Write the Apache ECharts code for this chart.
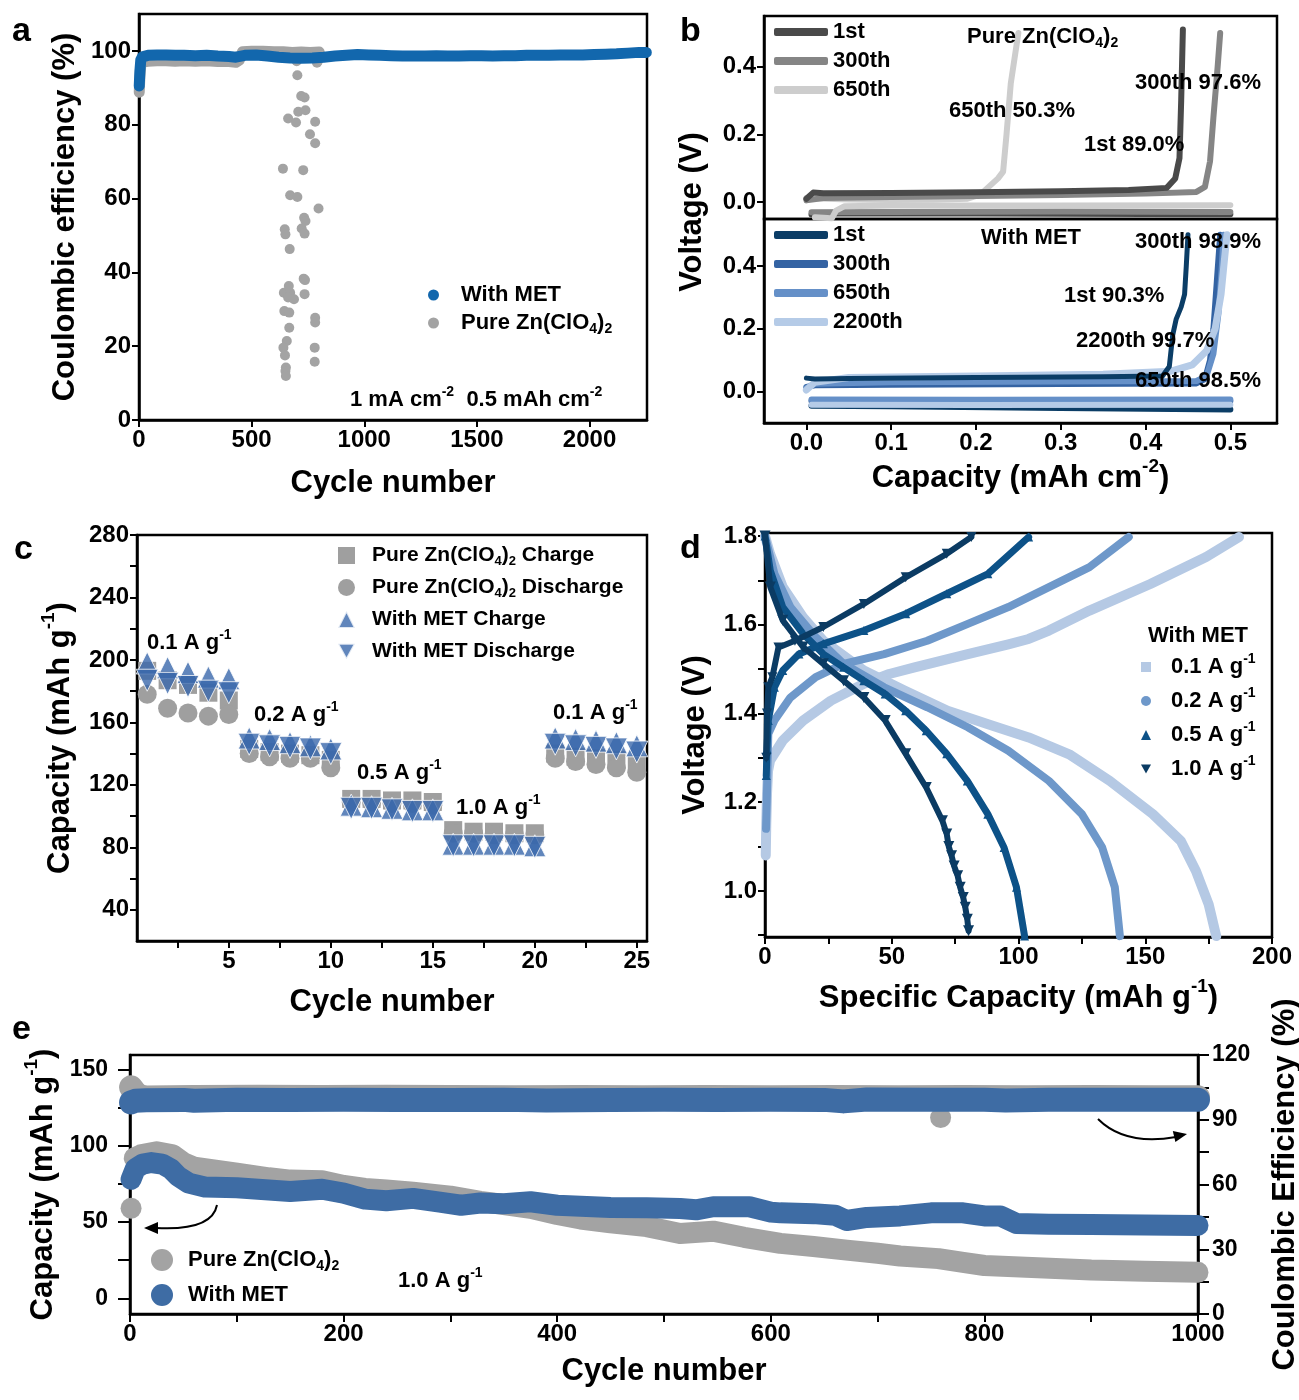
<!DOCTYPE html>
<html><head><meta charset="utf-8">
<script src="https://cdn.jsdelivr.net/npm/echarts@6/dist/echarts.min.js"></script>
<style>html,body{margin:0;padding:0;background:#fff}#chart{width:1299px;height:1400px}</style>
</head><body><div id="chart"></div>
<script>
// ---------------- (a) Coulombic efficiency, Zn||Cu ----------------
const aMetCE = [[1,90.5],[4,94.5],[8,97.6],[15,98.4],[40,98.8],[80,98.9],[120,98.9],[160,98.8],[200,98.8],[250,98.7],[300,98.8],[350,98.6],[400,98.5],[430,98.3],[470,98.8],[520,98.9],[570,98.6],[620,98.3],[670,98.1],[720,98.0],[770,98.1],[820,98.3],[870,98.6],[920,98.8],[970,99.0],[1020,98.9],[1070,98.8],[1120,98.7],[1170,98.6],[1220,98.6],[1270,98.6],[1320,98.7],[1370,98.6],[1420,98.6],[1470,98.7],[1520,98.7],[1570,98.6],[1620,98.7],[1670,98.7],[1720,98.8],[1770,98.8],[1820,98.8],[1870,98.9],[1920,98.9],[1970,98.9],[2020,99.0],[2070,99.1],[2120,99.2],[2170,99.4],[2220,99.6],[2252,99.6]];
const aPureCE = [[1,88.8],[4,93],[8,96.2],[15,97.0],[40,97.2],[80,97.3],[120,97.3],[160,97.2],[200,97.3],[250,97.2],[300,97.3],[350,97.1],[400,97.1],[430,96.9],[445,97.5],[460,99.8],[500,99.9],[550,99.9],[600,99.8],[640,99.8],[680,99.6],[720,99.7],[760,99.6],[800,99.7]];
const aPureDrop = [[703,93.4],[720,87.8],[735,87.4],[707,83.5],[739,83.9],[662,81.7],[697,80.6],[782,80.8],[759,77.4],[782,75],[639,68.1],[729,67.7],[671,60.9],[703,60.4],[797,57.3],[733,54.8],[739,53.9],[647,51.7],[650,50.3],[722,51.9],[735,50.5],[669,46.3],[731,38.3],[737,37.9],[665,36.3],[643,34.5],[671,34.5],[662,33.2],[688,32.7],[735,34.1],[645,29.5],[667,29.1],[667,25],[782,27.7],[782,26.4],[656,21.4],[641,19.6],[780,19.6],[648,17.5],[780,15.8],[652,14.2],[650,13.3],[652,11.9],[700,97.2],[790,96.8],[795,97.3]];

// ---------------- (b) voltage profiles ----------------
const bZn1Strip = [[0.0,0.01],[0.008,0.028],[0.02,0.026],[0.1,0.027],[0.2,0.029],[0.3,0.032],[0.38,0.036],[0.425,0.042],[0.435,0.07],[0.44,0.13],[0.442,0.3],[0.444,0.51]];
const bZn1Plate = [[0.006,-0.037],[0.02,-0.034],[0.2,-0.034],[0.4,-0.035],[0.5,-0.036]];
const bZn300Strip = [[0.0,0.005],[0.02,0.012],[0.1,0.015],[0.2,0.018],[0.3,0.021],[0.4,0.025],[0.46,0.03],[0.47,0.045],[0.476,0.12],[0.48,0.25],[0.485,0.4],[0.488,0.5]];
const bZn300Plate = [[0.006,-0.03],[0.1,-0.029],[0.3,-0.028],[0.5,-0.029]];
const bZn650Strip = [[0.0,0.012],[0.05,0.008],[0.1,0.006],[0.15,0.007],[0.19,0.01],[0.205,0.022],[0.215,0.045],[0.226,0.07],[0.232,0.09],[0.236,0.2],[0.241,0.35],[0.25,0.5]];
const bZn650Plate = [[0.01,-0.045],[0.03,-0.048],[0.035,-0.025],[0.045,-0.012],[0.1,-0.01],[0.3,-0.01],[0.5,-0.009]];
const bMet1Strip = [[0.0,0.043],[0.01,0.04],[0.05,0.042],[0.2,0.045],[0.35,0.047],[0.42,0.05],[0.428,0.08],[0.432,0.18],[0.436,0.23],[0.442,0.27],[0.446,0.31],[0.448,0.4],[0.45,0.5]];
const bMet1Plate = [[0.006,-0.045],[0.1,-0.047],[0.3,-0.052],[0.5,-0.057]];
const bMet300Strip = [[0.0,0.015],[0.01,0.02],[0.1,0.022],[0.3,0.024],[0.46,0.026],[0.47,0.04],[0.476,0.1],[0.48,0.2],[0.484,0.35],[0.488,0.5]];
const bMet300Plate = [[0.006,-0.03],[0.2,-0.032],[0.5,-0.03]];
const bMet650Strip = [[0.0,0.012],[0.01,0.025],[0.1,0.03],[0.3,0.032],[0.46,0.034],[0.472,0.05],[0.48,0.12],[0.486,0.25],[0.49,0.4],[0.492,0.5]];
const bMet650Plate = [[0.006,-0.025],[0.2,-0.026],[0.5,-0.025]];
const bMet2200Strip = [[0.0,0.005],[0.01,0.03],[0.05,0.045],[0.2,0.05],[0.35,0.055],[0.43,0.065],[0.455,0.085],[0.472,0.13],[0.482,0.2],[0.489,0.31],[0.493,0.42],[0.496,0.5]];
const bMet2200Plate = [[0.006,-0.042],[0.2,-0.043],[0.5,-0.042]];

// ---------------- (c) rate performance ----------------
const cCycles = [1,2,3,4,5,6,7,8,9,10,11,12,13,14,15,16,17,18,19,20,21,22,23,24,25];
const cPureCharge    = [193,187,184,179,174, 143,141,140,139,136, 111,111,110,110,109, 91,90,90,89,89, 140,138,137,136,133];
const cPureDischarge = [178,169,166,164,165, 140,138,137,137,131, 109,109,108,108,107, 89,89,88,88,88, 137,135,133,131,128];
const cMetCharge     = [198,195,192,189,188, 150,149,147,145,143, 107,106,105,104,104, 82,82,82,82,81, 150,149,148,147,145];
const cMetDischarge  = [187,185,183,180,179, 146,145,144,143,140, 105,105,104,103,103, 81,81,81,81,80, 146,145,144,143,141];

// ---------------- (d) GCD curves ----------------
const d01Charge = [[0.3,1.08],[0.5,1.15],[0.8,1.22],[1.2,1.27],[2,1.294],[7,1.339],[15,1.384],[26,1.429],[39,1.467],[49,1.489],[59,1.504],[80,1.534],[96,1.556],[104,1.568],[112,1.587],[128,1.632],[152,1.692],[174,1.753],[187,1.798]];
const d01Discharge = [[0,1.8],[2,1.76],[7,1.685],[15,1.617],[23,1.564],[39,1.497],[55,1.452],[72,1.406],[88,1.376],[104,1.346],[120,1.308],[136,1.248],[153,1.173],[164,1.113],[170,1.045],[175,0.97],[178,0.898]];
const d02Charge = [[0.4,1.14],[0.7,1.2],[1,1.28],[1.3,1.354],[3.7,1.384],[10,1.436],[20,1.482],[31,1.512],[47,1.534],[64,1.564],[80,1.602],[96,1.64],[112,1.685],[128,1.73],[143.5,1.798]];
const d02Discharge = [[0,1.8],[3.7,1.715],[10,1.64],[20,1.572],[31,1.512],[47,1.459],[64,1.414],[80,1.369],[96,1.316],[112,1.248],[125,1.173],[133,1.098],[138,1.008],[140,0.898]];
const d05Charge = [[0.5,1.26],[0.8,1.32],[1.3,1.384],[3.7,1.459],[7,1.497],[13.4,1.534],[23,1.557],[39,1.587],[55.5,1.625],[71.7,1.67],[87.9,1.715],[104,1.798]];
const d05Discharge = [[0,1.8],[2.1,1.722],[7,1.64],[15,1.58],[23,1.534],[31,1.504],[39,1.474],[47.4,1.444],[55.5,1.406],[63.6,1.361],[71.7,1.309],[79.8,1.248],[87.9,1.173],[94.3,1.098],[99.2,1.008],[102.4,0.898]];
const d10Charge = [[0.5,1.3],[0.8,1.4],[1.3,1.459],[2.9,1.482],[5.3,1.549],[11.8,1.564],[23,1.595],[39,1.647],[55.5,1.707],[71.7,1.76],[81.4,1.798]];
const d10Discharge = [[0,1.8],[2.1,1.685],[7,1.61],[15,1.55],[23,1.512],[31,1.474],[39,1.436],[47.4,1.384],[55.5,1.309],[63.6,1.233],[70,1.158],[71.7,1.128],[72.5,1.1],[73.6,1.079],[74.6,1.056],[76,1.034],[77,1.008],[78.2,0.985],[79,0.963],[79.8,0.936],[80.3,0.91]];

// ---------------- (e) long-term cycling ----------------
const ePureCap = [[4,92],[10,94],[25,96],[40,94],[50,89],[60,86],[80,84],[100,82],[130,79],[150,77.5],[180,77],[200,74],[220,72],[240,71],[265,69.5],[300,67],[328,63.5],[350,61.5],[375,59],[400,55],[422,52],[450,49.5],[484,47],[515,42.5],[546,44],[575,40],[609,36],[640,34],[671,31.6],[700,29.5],[721,27.7],[757,26],[780,23.5],[800,21.5],[850,20],[900,18.5],[950,17.8],[1000,17]];
const ePureCapOutlier = [[1,59]];
const eMetCap = [[1,78],[5,85],[12,88],[20,89],[30,88],[38,85],[45,80],[55,75.5],[70,73],[100,72.5],[130,71],[150,70],[180,71.5],[200,69],[220,65],[240,64],[265,65.5],[290,63],[310,61],[328,62.5],[350,62],[375,63.3],[400,61],[422,60.4],[450,59.5],[484,59.4],[515,58.9],[530,58],[546,60],[580,60],[600,56.5],[609,56],[640,55.5],[660,54.5],[671,51],[690,53],[721,54],[750,56],[780,56],[800,54],[815,54],[830,49],[860,48.5],[900,48.3],[950,48],[1000,47.8]];
const ePureCE = [[1,105],[4,103],[8,101],[15,100.3],[60,100.5],[120,100.6],[180,100.5],[240,100.6],[300,100.5],[360,100.4],[420,100.5],[480,100.4],[540,100.5],[600,100.4],[660,100.5],[720,100.4],[780,100.5],[840,100.4],[900,100.5],[960,100.4],[1000,100.4]];
const ePureCEOutlier = [[759,91]];
const eMetCE = [[1,98],[5,98.8],[15,99],[50,99.2],[60,98.8],[100,99.3],[150,99.2],[200,99.3],[250,99.2],[300,99.2],[350,99.3],[390,98.9],[450,99.2],[500,99.3],[550,99.2],[600,99.3],[650,99.2],[668,98.5],[690,99.4],[750,99.3],[800,99.3],[820,98.9],[860,99.3],[900,99.3],[950,99.3],[1000,99.3]];

// ---------------- tick values ----------------
const aXLabels = [0,500,1000,1500,2000];
const aYLabels = [0,20,40,60,80,100];
const bXLabels = [0,0.1,0.2,0.3,0.4,0.5];
const bYLabels = [0,0.2,0.4];
const cXLabels = [5,10,15,20,25];
const cXTicks = [2.5,5,7.5,10,12.5,15,17.5,20,22.5,25];
const cYLabels = [40,80,120,160,200,240,280];
const cYTicks = [40,60,80,100,120,140,160,180,200,220,240,260,280];
const dXLabels = [0,50,100,150,200];
const dXTicks = [0,25,50,75,100,125,150,175,200];
const dYLabels = [1.0,1.2,1.4,1.6,1.8];
const dYTicks = [0.9,1.0,1.1,1.2,1.3,1.4,1.5,1.6,1.7,1.8];
const eXLabels = [0,200,400,600,800,1000];
const eXTicks = [0,100,200,300,400,500,600,700,800,900,1000];
const eYLLabels = [0,50,100,150];
const eYLTicks = [0,25,50,75,100,125,150];
const eYRLabels = [0,30,60,90,120];
const eYRTicks = [0,15,30,45,60,75,90,105,120];

// ---------------- styling ----------------
const FONT = '"Liberation Sans", Arial, Helvetica, sans-serif';
const GRAY = '#a3a3a3';
const A_BLUE = '#1267ad';
const C_BLUE = '#3a68ab';
const E_BLUE = '#3e6ca4';
const DOWN = 'path://M0,0L10,0L5,9Z';

function R(fs, gap) {
  const b = {fontWeight: 'bold', fontFamily: FONT, color: '#000'};
  const sm = Math.round(fs * 0.62);
  return {
    t: Object.assign({fontSize: fs, lineHeight: Math.round(fs * 1.2)}, b),
    T: Object.assign({fontSize: fs, lineHeight: Math.round(fs * 1.35)}, b),
    s: Object.assign({fontSize: sm, lineHeight: sm, verticalAlign: 'bottom'}, b),
    p: Object.assign({fontSize: sm, lineHeight: sm, verticalAlign: 'top'}, b),
    g: {width: gap || 0, fontSize: fs, lineHeight: fs}
  };
}

function axis(o) {
  const base = {
    type: 'value',
    axisLine: {show: true, onZero: false, lineStyle: {color: '#000', width: 2.5}},
    axisTick: {show: true, inside: false, length: 7, lineStyle: {color: '#000', width: 2}},
    axisLabel: {show: true, color: '#000', fontFamily: FONT, fontWeight: 'bold', fontSize: 24, margin: 8, formatter: v => String(v)},
    splitLine: {show: false},
    nameLocation: 'middle',
    nameTextStyle: {color: '#000', fontFamily: FONT, fontWeight: 'bold', fontSize: 31, rich: R(31)}
  };
  const out = Object.assign({}, base, o);
  ['axisLine','axisTick','axisLabel','nameTextStyle'].forEach(k => {
    if (o[k]) out[k] = Object.assign({}, base[k], o[k]);
  });
  return out;
}
const f1 = v => v.toFixed(1);

function txt(x, y, text, fs, extra) {
  return Object.assign({
    type: 'text', x: x, y: y, z: 100,
    style: {text: text, rich: R(fs), fontSize: fs, fontWeight: 'bold', fontFamily: FONT, fill: '#000',
            align: 'left', verticalAlign: 'middle', textAlign: 'left', textVerticalAlign: 'middle'}
  }, extra || {});
}

const grid = [
  {left: 139, top: 14, width: 508, height: 406},   // a
  {left: 764, top: 16, width: 513, height: 203},   // b top
  {left: 764, top: 219, width: 513, height: 204},  // b bottom
  {left: 137, top: 535, width: 510, height: 406},  // c
  {left: 765, top: 533, width: 507, height: 404},  // d
  {left: 130, top: 1055, width: 1068, height: 259} // e
].map(g => Object.assign({show: true, borderColor: '#000', borderWidth: 2.5, backgroundColor: 'transparent',
                          containLabel: false, outerBoundsMode: 'none'}, g));

const xAxis = [
  axis({gridIndex: 0, min: 0, max: 2255, axisLabel: {customValues: aXLabels}, axisTick: {customValues: aXLabels}, name: 'Cycle number', nameGap: 48}),
  axis({gridIndex: 1, min: -0.05, max: 0.555, axisLine: {show: false}, axisTick: {show: false}, axisLabel: {show: false}}),
  axis({gridIndex: 2, min: -0.05, max: 0.555, axisLabel: {customValues: bXLabels, formatter: f1}, axisTick: {customValues: bXLabels},
        name: '{T|Capacity (mAh cm}{p|-2}{T|)}', nameGap: 34}),
  axis({gridIndex: 3, min: 0.5, max: 25.5, axisLabel: {customValues: cXLabels}, axisTick: {customValues: cXTicks}, name: 'Cycle number', nameGap: 46}),
  axis({gridIndex: 4, min: 0, max: 200, axisLabel: {customValues: dXLabels}, axisTick: {customValues: dXTicks},
        name: '{T|Specific Capacity (mAh g}{p|-1}{T|)}', nameGap: 40}),
  axis({gridIndex: 5, min: 0, max: 1000, axisLabel: {customValues: eXLabels}, axisTick: {customValues: eXTicks, length: 8}, name: 'Cycle number', nameGap: 42})
];
const yAxis = [
  axis({gridIndex: 0, min: 0, max: 110, axisLabel: {customValues: aYLabels}, axisTick: {customValues: aYLabels},
        name: 'Coulombic efficiency (%)', nameGap: 58, nameRotate: 90}),
  axis({gridIndex: 1, min: -0.05, max: 0.55, axisLabel: {customValues: bYLabels, formatter: f1}, axisTick: {customValues: bYLabels}}),
  axis({gridIndex: 2, min: -0.1, max: 0.55, axisLabel: {customValues: bYLabels, formatter: f1}, axisTick: {customValues: bYLabels}}),
  axis({gridIndex: 3, min: 20, max: 280, axisLabel: {customValues: cYLabels}, axisTick: {customValues: cYTicks},
        name: '{T|Capacity (mAh g}{p|-1}{T|)}', nameGap: 56, nameRotate: 90}),
  axis({gridIndex: 4, min: 0.896, max: 1.807, axisLabel: {customValues: dYLabels, formatter: f1}, axisTick: {customValues: dYTicks},
        name: 'Voltage (V)', nameGap: 54, nameRotate: 90}),
  axis({gridIndex: 5, min: -10.3, max: 159.5, position: 'left', axisLabel: {customValues: eYLLabels, fontSize: 23, margin: 22}, axisTick: {customValues: eYLTicks, length: 12},
        name: '{T|Capacity (mAh g}{p|-1}{T|)}', nameGap: 64, nameRotate: 90}),
  axis({gridIndex: 5, min: 0, max: 120, position: 'right', axisLabel: {customValues: eYRLabels, fontSize: 23, margin: 14}, axisTick: {customValues: eYRTicks, length: 11},
        name: 'Coulombic Efficiency (%)', nameGap: 72, nameRotate: 90})
];

function line(name, xi, yi, data, color, width, extra) {
  return Object.assign({
    type: 'line', name: name, xAxisIndex: xi, yAxisIndex: yi, data: data,
    symbol: 'none', smooth: false, clip: true, animation: false,
    lineStyle: {color: color, width: width, cap: 'round', join: 'round'},
    itemStyle: {color: color}
  }, extra || {});
}
function pts(name, xi, yi, data, color, symbol, size, extra) {
  return Object.assign({
    type: 'scatter', name: name, xAxisIndex: xi, yAxisIndex: yi, data: data,
    symbol: symbol, symbolSize: size, animation: false, itemStyle: {color: color, opacity: 1}
  }, extra || {});
}
const pair = vals => cCycles.map((c, i) => [c, vals[i]]);

const series = [
  // a
  line('a:Pure', 0, 0, aPureCE, GRAY, 11, {z: 2}),
  pts('a:Pure', 0, 0, aPureDrop, GRAY, 'circle', 10, {z: 2}),
  line('a:MET', 0, 0, aMetCE, A_BLUE, 11, {z: 3}),
  // b top
  line('bt:1st', 1, 1, bZn1Strip, '#4a4a4a', 6, {z: 5}),
  line('bt:1st', 1, 1, bZn1Plate, '#4a4a4a', 6, {z: 3}),
  line('bt:300th', 1, 1, bZn300Strip, '#858585', 6, {z: 4}),
  line('bt:300th', 1, 1, bZn300Plate, '#858585', 6, {z: 4}),
  line('bt:650th', 1, 1, bZn650Strip, '#cdcdcd', 6, {z: 3}),
  line('bt:650th', 1, 1, bZn650Plate, '#cdcdcd', 6, {z: 5}),
  // b bottom
  line('bb:1st', 2, 2, bMet1Strip, '#0b3d66', 5, {z: 6}),
  line('bb:1st', 2, 2, bMet1Plate, '#0b3d66', 6, {z: 3}),
  line('bb:300th', 2, 2, bMet300Strip, '#3463a3', 6, {z: 4}),
  line('bb:300th', 2, 2, bMet300Plate, '#3463a3', 6, {z: 4}),
  line('bb:650th', 2, 2, bMet650Strip, '#6590c8', 6, {z: 4}),
  line('bb:650th', 2, 2, bMet650Plate, '#6590c8', 6, {z: 5}),
  line('bb:2200th', 2, 2, bMet2200Strip, '#b5cbe7', 7, {z: 5}),
  line('bb:2200th', 2, 2, bMet2200Plate, '#b5cbe7', 6, {z: 5}),
  // c
  pts('c:PureC', 3, 3, pair(cPureCharge), '#9f9f9f', 'rect', 18, {z: 2}),
  pts('c:PureD', 3, 3, pair(cPureDischarge), '#9f9f9f', 'circle', 19, {z: 2}),
  pts('c:MetC', 3, 3, pair(cMetCharge), C_BLUE, 'triangle', 22, {z: 3, itemStyle: {color: C_BLUE, borderColor: '#fff', borderWidth: 1}}),
  pts('c:MetD', 3, 3, pair(cMetDischarge), C_BLUE, DOWN, 22, {z: 4, itemStyle: {color: C_BLUE, borderColor: '#fff', borderWidth: 1}}),
  // d
  line('d:0.1', 4, 4, d01Charge, '#b5c9e4', 10, {z: 2}),
  line('d:0.1', 4, 4, d01Discharge, '#b5c9e4', 10, {z: 2}),
  line('d:0.2', 4, 4, d02Charge, '#6e98ca', 8, {z: 3}),
  line('d:0.2', 4, 4, d02Discharge, '#6e98ca', 8, {z: 3}),
  line('d:0.5', 4, 4, d05Charge, '#0d5288', 7, {z: 4, symbol: 'triangle', symbolSize: 9, showSymbol: true, showAllSymbol: true}),
  line('d:0.5', 4, 4, d05Discharge, '#0d5288', 7, {z: 4, symbol: 'triangle', symbolSize: 9, showSymbol: true, showAllSymbol: true}),
  line('d:1.0', 4, 4, d10Charge, '#0b3b63', 6, {z: 5, symbol: DOWN, symbolSize: 10, showSymbol: true, showAllSymbol: true}),
  line('d:1.0', 4, 4, d10Discharge, '#0b3b63', 6, {z: 5, symbol: DOWN, symbolSize: 11, showSymbol: true, showAllSymbol: true}),
  // e
  line('e:Pure', 5, 6, ePureCE, GRAY, 24, {z: 2}),
  pts('e:Pure', 5, 6, ePureCEOutlier, GRAY, 'circle', 21, {z: 2}),
  line('e:Pure', 5, 5, ePureCap, GRAY, 21, {z: 2}),
  pts('e:Pure', 5, 5, ePureCapOutlier, GRAY, 'circle', 21, {z: 2}),
  line('e:MET', 5, 5, eMetCap, E_BLUE, 21, {z: 3}),
  line('e:MET', 5, 6, eMetCE, E_BLUE, 24, {z: 3})
];

const LEG = {
  'a:MET': '{g|}{t|With MET}',
  'a:Pure': '{g|}{t|Pure Zn(ClO}{s|4}{t|)}{s|2}',
  'c:PureC': '{g|}{t|Pure Zn(ClO}{s|4}{t|)}{s|2}{t| Charge}',
  'c:PureD': '{g|}{t|Pure Zn(ClO}{s|4}{t|)}{s|2}{t| Discharge}',
  'c:MetC': '{g|}{t|With MET Charge}',
  'c:MetD': '{g|}{t|With MET Discharge}',
  'd:0.1': '{g|}{T|0.1 A g}{p|-1}',
  'd:0.2': '{g|}{T|0.2 A g}{p|-1}',
  'd:0.5': '{g|}{T|0.5 A g}{p|-1}',
  'd:1.0': '{g|}{T|1.0 A g}{p|-1}',
  'e:Pure': '{g|}{t|Pure Zn(ClO}{s|4}{t|)}{s|2}',
  'e:MET': '{g|}{t|With MET}'
};
const legFmt = n => LEG[n] || n.split(':')[1];
function legend(o, fs, gap) {
  return Object.assign({
    orient: 'vertical', selectedMode: false, padding: 0, formatter: legFmt,
    textStyle: {color: '#000', fontFamily: FONT, fontWeight: 'bold', fontSize: fs, lineHeight: fs, rich: R(fs, gap)}
  }, o);
}
const legends = [
  legend({left: 428, top: 282, itemWidth: 11, itemHeight: 11, itemGap: 2,
          data: [{name: 'a:MET', icon: 'circle'}, {name: 'a:Pure', icon: 'circle'}]}, 22, 17),
  legend({left: 774, top: 21, itemWidth: 54, itemHeight: 8, itemGap: 7,
          data: [{name: 'bt:1st', icon: 'roundRect'}, {name: 'bt:300th', icon: 'roundRect'}, {name: 'bt:650th', icon: 'roundRect'}]}, 22, 0),
  legend({left: 774, top: 224, itemWidth: 54, itemHeight: 8, itemGap: 7,
          data: [{name: 'bb:1st', icon: 'roundRect'}, {name: 'bb:300th', icon: 'roundRect'}, {name: 'bb:650th', icon: 'roundRect'}, {name: 'bb:2200th', icon: 'roundRect'}]}, 22, 0),
  legend({left: 337, top: 543, itemWidth: 17, itemHeight: 17, itemGap: 7,
          data: [{name: 'c:PureC', icon: 'rect'}, {name: 'c:PureD', icon: 'circle'}, {name: 'c:MetC', icon: 'triangle'}, {name: 'c:MetD', icon: DOWN}]}, 21, 12),
  legend({left: 1141, top: 652, itemWidth: 10, itemHeight: 10, itemGap: 4,
          data: [{name: 'd:0.1', icon: 'rect'}, {name: 'd:0.2', icon: 'circle'}, {name: 'd:0.5', icon: 'triangle'}, {name: 'd:1.0', icon: DOWN}]}, 22, 15),
  legend({left: 151, top: 1247, itemWidth: 22, itemHeight: 22, itemGap: 9,
          data: [{name: 'e:Pure', icon: 'circle'}, {name: 'e:MET', icon: 'circle'}]}, 22, 10)
];

const graphic = [
  txt(12, 32, 'a', 34), txt(680, 32, 'b', 34), txt(14, 550, 'c', 34), txt(680, 549, 'd', 34), txt(12, 1030, 'e', 34),
  txt(350, 400, '{T|1 mA cm}{p|-2}{T|  0.5 mAh cm}{p|-2}', 22),
  txt(967, 37, '{t|Pure Zn(ClO}{s|4}{t|)}{s|2}', 22),
  txt(1135, 83, '300th 97.6%', 22),
  txt(949, 111, '650th 50.3%', 22),
  txt(1084, 145, '1st 89.0%', 22),
  txt(981, 238, 'With MET', 22),
  txt(1135, 242, '300th 98.9%', 22),
  txt(1064, 296, '1st 90.3%', 22),
  txt(1076, 341, '2200th 99.7%', 22),
  txt(1135, 381, '650th 98.5%', 22),
  txt(692, 212, 'Voltage (V)', 31, {rotation: Math.PI / 2, style: {text: 'Voltage (V)', fontSize: 31, fontWeight: 'bold', fontFamily: FONT, fill: '#000', align: 'center', verticalAlign: 'middle', textAlign: 'center', textVerticalAlign: 'middle'}}),
  txt(147, 643, '{T|0.1 A g}{p|-1}', 22),
  txt(254, 715, '{T|0.2 A g}{p|-1}', 22),
  txt(357, 773, '{T|0.5 A g}{p|-1}', 22),
  txt(456, 808, '{T|1.0 A g}{p|-1}', 22),
  txt(553, 713, '{T|0.1 A g}{p|-1}', 22),
  txt(1148, 636, 'With MET', 22),
  txt(398, 1281, '{T|1.0 A g}{p|-1}', 22),
  {type: 'bezierCurve', z: 100, shape: {x1: 217, y1: 1205, cpx1: 212, cpy1: 1231, x2: 156, y2: 1228}, style: {stroke: '#000', lineWidth: 2, fill: null}},
  {type: 'polygon', z: 100, shape: {points: [[144, 1228], [158, 1222], [158, 1234]]}, style: {fill: '#000'}},
  {type: 'bezierCurve', z: 100, shape: {x1: 1098, y1: 1119, cpx1: 1125, cpy1: 1146, x2: 1176, y2: 1137}, style: {stroke: '#000', lineWidth: 2, fill: null}},
  {type: 'polygon', z: 100, shape: {points: [[1187, 1134], [1175.4, 1142], [1172.8, 1131]]}, style: {fill: '#000'}}
];

const chart = echarts.init(document.getElementById('chart'), null, {renderer: 'canvas', width: 1299, height: 1400});
chart.setOption({
  animation: false,
  backgroundColor: '#fff',
  textStyle: {fontFamily: FONT},
  grid: grid, xAxis: xAxis, yAxis: yAxis, series: series, legend: legends, graphic: graphic
});
</script></body></html>
